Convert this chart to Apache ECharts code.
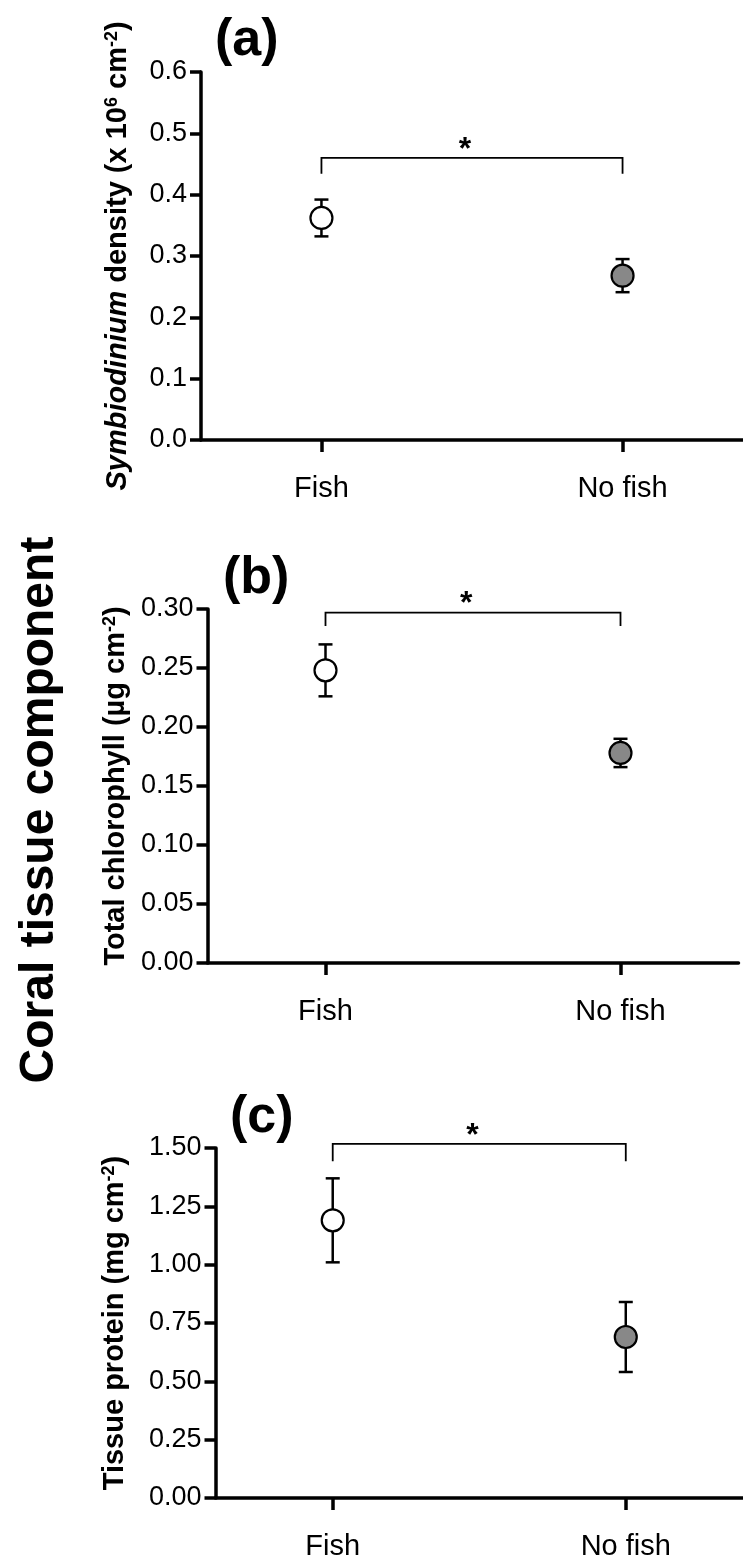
<!DOCTYPE html>
<html>
<head>
<meta charset="utf-8">
<script src="https://cdn.jsdelivr.net/npm/echarts@6/dist/echarts.min.js"></script>
<style>
  html, body { margin: 0; padding: 0; background: #fff; }
  #chart { width: 743px; height: 1568px; }
</style>
</head>
<body>
<div id="chart"></div>
<script>
const groups = ['Fish', 'No fish'];
const groupX = [1, 2];
const pointFill = ['#ffffff', '#888888'];

// (a) Symbiodinium density (x 10^6 cm^-2)
const symbioMean = [0.362, 0.268];
const symbioErr = [0.030, 0.027];
// (b) total chlorophyll (µg cm^-2)
const chlMean = [0.248, 0.178];
const chlErr = [0.022, 0.012];
// (c) tissue protein (mg cm^-2)
const protMean = [1.19, 0.69];
const protErr = [0.18, 0.15];

const panelLabels = ['(a)', '(b)', '(c)'];
const yMax = [0.6, 0.30, 1.50];
const yStep = [0.1, 0.05, 0.25];
const yDecimals = [1, 2, 2];
// significance bracket (y of bar, y of feet) and asterisk x
const bracketTop = [0.46, 0.297, 1.518];
const bracketFoot = [0.434, 0.2855, 1.443];
const starX = 1.477;

const means = [symbioMean, chlMean, protMean];
const errs = [symbioErr, chlErr, protErr];

const FONT = '"Liberation Sans", Arial, Helvetica, sans-serif';

// layout
const grids = [
  { left: 201, top: 72, height: 368, width: 549 },
  { left: 207.5, top: 609, height: 354, width: 531 },
  { left: 215.5, top: 1148, height: 350, width: 530 }
];
const nameGaps = [69, 77, 86];
const labelPos = [[215, 42], [223, 580], [230, 1119]];

const supStyle = { fontSize: 18, fontWeight: 'bold', fontFamily: FONT, color: '#000', verticalAlign: 'top' };
const yNames = [
  '{i|Symbiodinium} density (x 10{sup|6} cm{sup|-2})',
  'Total chlorophyll (µg cm{sup|-2})',
  'Tissue protein (mg cm{sup|-2})'
];

function errorBar(params, api) {
  const x = api.value(0), m = api.value(1), e = api.value(2);
  const hi = api.coord([x, m + e]);
  const lo = api.coord([x, m - e]);
  const cap = 7;
  const st = { stroke: '#000', lineWidth: 2.5 };
  return {
    type: 'group',
    children: [
      { type: 'line', shape: { x1: hi[0], y1: hi[1], x2: lo[0], y2: lo[1] }, style: st },
      { type: 'line', shape: { x1: hi[0] - cap, y1: hi[1], x2: hi[0] + cap, y2: hi[1] }, style: st },
      { type: 'line', shape: { x1: lo[0] - cap, y1: lo[1], x2: lo[0] + cap, y2: lo[1] }, style: st }
    ]
  };
}

function bracket(params, api) {
  const x1 = api.value(0), x2 = api.value(1), top = api.value(2), foot = api.value(3), sx = api.value(4);
  const a = api.coord([x1, foot]);
  const b = api.coord([x1, top]);
  const c = api.coord([x2, top]);
  const d = api.coord([x2, foot]);
  const s = api.coord([sx, top]);
  return {
    type: 'group',
    children: [
      { type: 'polyline', shape: { points: [a, b, c, d] }, style: { stroke: '#000', lineWidth: 1.8, fill: null } },
      { type: 'text', x: s[0], y: s[1] - 8,
        style: { text: '*', font: 'bold 32px ' + FONT, textAlign: 'center', textVerticalAlign: 'middle', fill: '#000' } }
    ]
  };
}

const option = {
  animation: false,
  backgroundColor: '#fff',
  title: [],
  grid: [],
  xAxis: [],
  yAxis: [],
  series: [],
  graphic: [{
    type: 'text',
    x: 40, y: 810,
    rotation: Math.PI / 2,
    style: {
      text: 'Coral tissue component',
      font: 'bold 48px ' + FONT,
      textAlign: 'center',
      textVerticalAlign: 'middle',
      fill: '#000'
    }
  }]
};

for (let i = 0; i < 3; i++) {
  option.grid.push(Object.assign({ containLabel: false }, grids[i]));

  option.title.push({
    text: panelLabels[i],
    left: labelPos[i][0],
    top: labelPos[i][1] - 27,
    padding: 0,
    textStyle: { fontSize: 52, fontWeight: 'bold', fontFamily: FONT, color: '#000' }
  });

  option.xAxis.push({
    type: 'value',
    gridIndex: i,
    min: 0.6,
    max: 2.4,
    axisLine: { show: true, onZero: false, lineStyle: { color: '#000', width: 3.5 } },
    axisTick: { show: true, customValues: groupX, length: 12, lineStyle: { color: '#000', width: 3.5 } },
    axisLabel: {
      customValues: groupX,
      formatter: v => groups[groupX.indexOf(v)] || '',
      fontSize: 29, color: '#000', margin: 34, fontFamily: FONT
    },
    splitLine: { show: false }
  });

  option.yAxis.push({
    type: 'value',
    gridIndex: i,
    min: 0,
    max: yMax[i],
    interval: yStep[i],
    axisLine: { show: true, lineStyle: { color: '#000', width: 3.5 } },
    axisTick: { show: true, length: 11, lineStyle: { color: '#000', width: 3.5 } },
    axisLabel: {
      formatter: v => v.toFixed(yDecimals[i]),
      fontSize: 27, color: '#000', margin: 14, fontFamily: FONT
    },
    splitLine: { show: false },
    name: yNames[i],
    nameLocation: 'middle',
    nameGap: nameGaps[i],
    nameTextStyle: {
      fontSize: 29, fontWeight: 'bold', fontFamily: FONT, color: '#000',
      rich: {
        i: { fontSize: 29, fontWeight: 'bold', fontStyle: 'italic', fontFamily: FONT, color: '#000' },
        sup: supStyle
      }
    }
  });

  option.series.push({
    type: 'custom',
    xAxisIndex: i, yAxisIndex: i,
    renderItem: errorBar,
    z: 2,
    data: groupX.map((x, k) => [x, means[i][k], errs[i][k]])
  });

  option.series.push({
    type: 'scatter',
    xAxisIndex: i, yAxisIndex: i,
    symbol: 'circle',
    symbolSize: 22,
    z: 3,
    data: groupX.map((x, k) => ({
      value: [x, means[i][k]],
      itemStyle: { color: pointFill[k], borderColor: '#000', borderWidth: 2.2, opacity: 1 }
    }))
  });

  option.series.push({
    type: 'custom',
    xAxisIndex: i, yAxisIndex: i,
    renderItem: bracket,
    clip: false,
    z: 2,
    data: [[groupX[0], groupX[1], bracketTop[i], bracketFoot[i], starX]]
  });
}

const chart = echarts.init(document.getElementById('chart'));
chart.setOption(option);
</script>
</body>
</html>
